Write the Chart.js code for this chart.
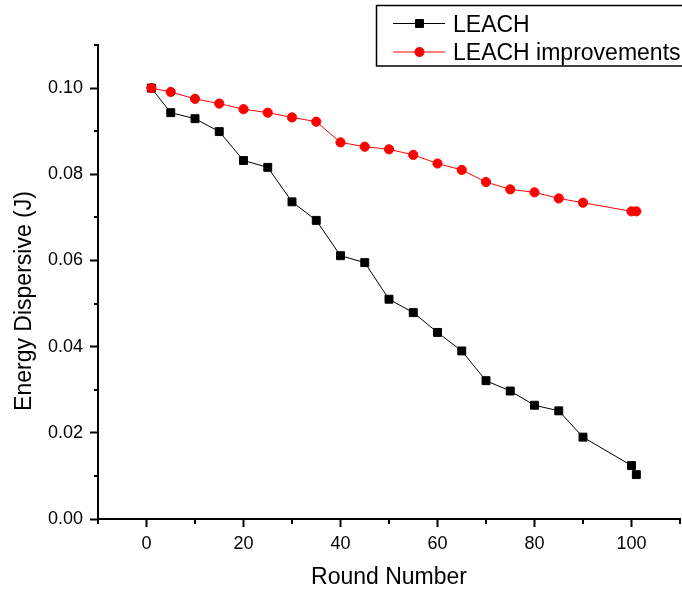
<!DOCTYPE html>
<html>
<head>
<meta charset="utf-8">
<script src="https://cdn.jsdelivr.net/npm/chart.js@4.4.1/dist/chart.umd.min.js"></script>
<style>
  html, body { margin: 0; padding: 0; background: #ffffff; }
  #wrap { width: 682px; height: 592px; }
</style>
</head>
<body>
<div id="wrap"><canvas id="c" width="682" height="592"></canvas></div>
<script>
// ---- data ----
const rounds = [1, 5, 10, 15, 20, 25, 30, 35, 40, 45, 50, 55, 60, 65, 70, 75, 80, 85, 90, 100, 101];
const leach = [0.1000, 0.0943, 0.0929, 0.0899, 0.0832, 0.0816, 0.0736, 0.0693, 0.0611, 0.0595, 0.0510,
               0.0479, 0.0433, 0.0390, 0.0321, 0.0297, 0.0264, 0.0251, 0.0190, 0.0124, 0.0103];
const leachImproved = [0.1000, 0.0991, 0.0975, 0.0964, 0.0951, 0.0943, 0.0932, 0.0922, 0.0874, 0.0864, 0.0858,
                       0.0845, 0.0825, 0.0810, 0.0782, 0.0765, 0.0758, 0.0744, 0.0734, 0.0714, 0.0714];
const seriesNames = ['LEACH', 'LEACH improvements'];
const xMajorTicks = [0, 20, 40, 60, 80, 100];
const xMinorTicks = [-10, 10, 30, 50, 70, 90, 110];
const yMajorTicks = [0.00, 0.02, 0.04, 0.06, 0.08, 0.10];
const yMinorTicks = [0.01, 0.03, 0.05, 0.07, 0.09, 0.11];
const xTitle = 'Round Number';
const yTitle = 'Energy Dispersive (J)';

const FONT = "'Liberation Sans', Arial, sans-serif";

const toPoints = (xs, ys) => xs.map((x, i) => ({ x: x, y: ys[i] }));

// minor ticks, y-axis title and framed legend
const extrasPlugin = {
  id: 'extras',
  afterDraw(chart) {
    const ctx = chart.ctx;
    const xs = chart.scales.x, ys = chart.scales.y;
    const area = chart.chartArea;
    ctx.save();
    ctx.strokeStyle = '#000';
    ctx.lineWidth = 2;
    ctx.beginPath();
    xMinorTicks.forEach(v => {
      const px = Math.round(xs.getPixelForValue(v));
      ctx.moveTo(px, area.bottom);
      ctx.lineTo(px, area.bottom + 5);
    });
    yMinorTicks.forEach(v => {
      const py = Math.round(ys.getPixelForValue(v));
      ctx.moveTo(area.left, py);
      ctx.lineTo(area.left - 4, py);
    });
    ctx.stroke();

    // y-axis title
    ctx.fillStyle = '#000';
    ctx.font = '23px ' + FONT;
    ctx.textAlign = 'center';
    ctx.textBaseline = 'alphabetic';
    ctx.translate(31, 301);
    ctx.rotate(-Math.PI / 2);
    ctx.fillText(yTitle, 0, 0);
    ctx.restore();

    // legend with frame
    ctx.save();
    ctx.strokeStyle = '#000';
    ctx.lineWidth = 1.5;
    ctx.fillStyle = '#fff';
    ctx.beginPath();
    ctx.rect(376.5, 5.5, 400, 60.5);
    ctx.fill();
    ctx.stroke();
    const rowsY = [23.5, 52];
    const baseY = [32, 60];
    chart.data.datasets.forEach((ds, i) => {
      const y = rowsY[i];
      ctx.strokeStyle = ds.borderColor;
      ctx.lineWidth = 1;
      ctx.beginPath();
      ctx.moveTo(393, y);
      ctx.lineTo(445, y);
      ctx.stroke();
      ctx.fillStyle = ds.pointBackgroundColor;
      ctx.strokeStyle = ds.pointBorderColor;
      ctx.lineWidth = ds.pointBorderWidth;
      ctx.beginPath();
      if (ds.pointStyle === 'rect') {
        const s = Math.SQRT1_2 * ds.pointRadius;
        ctx.rect(419.5 - s, y - s, 2 * s, 2 * s);
      } else {
        ctx.arc(419.5, y, ds.pointRadius, 0, Math.PI * 2);
      }
      ctx.fill();
      ctx.stroke();
      ctx.fillStyle = '#000';
      ctx.font = '23px ' + FONT;
      ctx.textAlign = 'left';
      ctx.textBaseline = 'alphabetic';
      ctx.fillText(ds.label, 453, baseY[i]);
    });
    ctx.restore();
  }
};

new Chart(document.getElementById('c'), {
  type: 'scatter',
  data: {
    datasets: [
      {
        label: seriesNames[0],
        data: toPoints(rounds, leach),
        showLine: true,
        borderColor: '#000000',
        borderWidth: 1,
        pointStyle: 'rect',
        pointRadius: 5.6,
        pointHoverRadius: 5.6,
        pointBackgroundColor: '#000000',
        pointBorderColor: '#000000',
        pointBorderWidth: 1,
        order: 1
      },
      {
        label: seriesNames[1],
        data: toPoints(rounds, leachImproved),
        showLine: true,
        borderColor: '#ff0000',
        borderWidth: 1,
        pointStyle: 'circle',
        pointRadius: 4.6,
        pointHoverRadius: 4.6,
        pointBackgroundColor: '#ff0000',
        pointBorderColor: '#ff0000',
        pointBorderWidth: 1,
        order: 0
      }
    ]
  },
  options: {
    responsive: false,
    animation: false,
    devicePixelRatio: 1,
    layout: { autoPadding: false, padding: { top: 45, right: 2, left: 0, bottom: 0 } },
    plugins: {
      legend: { display: false },
      tooltip: { enabled: false }
    },
    scales: {
      x: {
        type: 'linear',
        min: -10,
        max: 110,
        afterFit(scale) { scale.height = 73; },
        afterBuildTicks(scale) { scale.ticks = xMajorTicks.map(v => ({ value: v })); },
        ticks: {
          color: '#000',
          font: { family: FONT, size: 18 },
          padding: 6,
          maxRotation: 0,
          autoSkip: false,
          callback: v => String(v)
        },
        grid: {
          display: true,
          drawOnChartArea: false,
          drawTicks: true,
          tickLength: 8,
          tickWidth: 2,
          tickColor: '#000'
        },
        border: { display: true, color: '#000', width: 2 },
        title: {
          display: true,
          text: xTitle,
          color: '#000',
          font: { family: FONT, size: 23 },
          padding: { top: 0, bottom: 1 }
        }
      },
      y: {
        type: 'linear',
        min: 0,
        max: 0.11,
        afterFit(scale) { scale.width = 98; },
        afterBuildTicks(scale) { scale.ticks = yMajorTicks.map(v => ({ value: v })); },
        ticks: {
          color: '#000',
          font: { family: FONT, size: 18 },
          padding: 7,
          autoSkip: false,
          callback: v => Number(v).toFixed(2)
        },
        grid: {
          display: true,
          drawOnChartArea: false,
          drawTicks: true,
          tickLength: 8,
          tickWidth: 2,
          tickColor: '#000'
        },
        border: { display: true, color: '#000', width: 2 }
      }
    }
  },
  plugins: [extrasPlugin]
});
</script>
</body>
</html>
